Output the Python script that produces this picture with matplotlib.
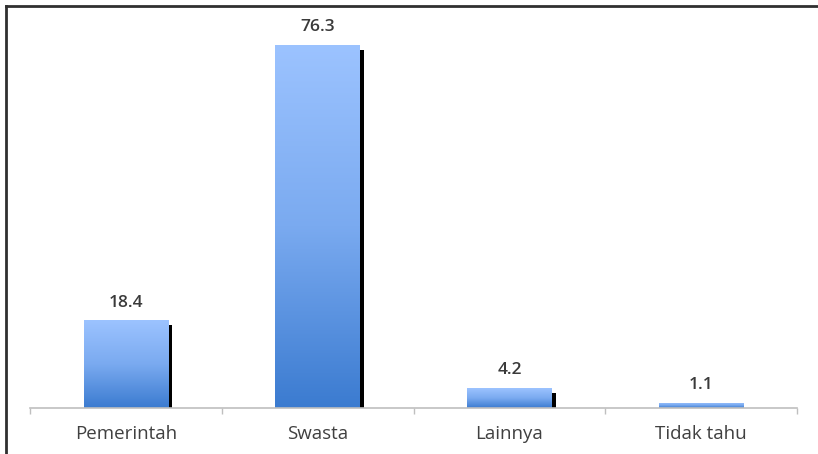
import numpy as np
import matplotlib
matplotlib.use("Agg")
import matplotlib.pyplot as plt
import matplotlib.transforms as mtransforms
from matplotlib.lines import Line2D

# data
kategori = ["Pemerintah", "Swasta", "Lainnya", "Tidak tahu"]
nilai = [18.4, 76.3, 4.2, 1.1]

plt.rcParams['font.family'] = ['Open Sans', 'DejaVu Sans']

fig = plt.figure(figsize=(8.18, 4.54), dpi=100)
ax = fig.add_axes([30/818, 1 - 408/454, 767/818, 400/454])

x = np.arange(len(kategori))
lebar = 0.44

# bayangan hitam di kanan batang
geser = mtransforms.offset_copy(ax.transData, fig=fig, x=4, y=-5, units='dots')
ax.bar(x, nilai, width=lebar, color='black', transform=geser, zorder=1)

# batang dengan gradien
bars = ax.bar(x, nilai, width=lebar, color='none', zorder=2)
grad = np.linspace(0, 1, 256).reshape(-1, 1)
cmap = matplotlib.colors.LinearSegmentedColormap.from_list('biru', ['#3b7bd0', '#7aaaf0', '#9cc3ff'])
for b in bars:
    x0, y0 = b.get_x(), b.get_y()
    w, h = b.get_width(), b.get_height()
    im = ax.imshow(grad, cmap=cmap, aspect='auto', origin='lower',
                   extent=[x0, x0 + w, y0, y0 + h], zorder=2)
    im.set_clip_path(b)

for xi, v in zip(x, nilai):
    ax.annotate(f"{v}", (xi, v), xytext=(0, 7), textcoords='offset points',
                ha='center', va='bottom', fontsize=12.5, fontweight='semibold', color='#3a3a3a')

ax.set_xlim(-0.5, len(kategori) - 0.5)
ax.set_ylim(0, 84)

ax.set_xticks(x)
ax.set_xticklabels(kategori, fontsize=13.5, color='#404040')
ax.tick_params(axis='x', which='major', length=0, pad=12)
ax.set_xticks(np.arange(len(kategori) + 1) - 0.5, minor=True)
ax.tick_params(axis='x', which='minor', length=4, color='#bfbfbf', width=1)
ax.set_yticks([])
for s in ['left', 'right', 'top']:
    ax.spines[s].set_visible(False)
ax.spines['bottom'].set_color('#bfbfbf')
ax.spines['bottom'].set_linewidth(1.2)

# bingkai
fig.add_artist(Line2D([6/818, 6/818], [0, 1 - 6/454], transform=fig.transFigure, color='#303030', lw=2))
fig.add_artist(Line2D([6/818, 1], [1 - 6/454, 1 - 6/454], transform=fig.transFigure, color='#303030', lw=2))

fig.savefig("out.png", dpi=100)
